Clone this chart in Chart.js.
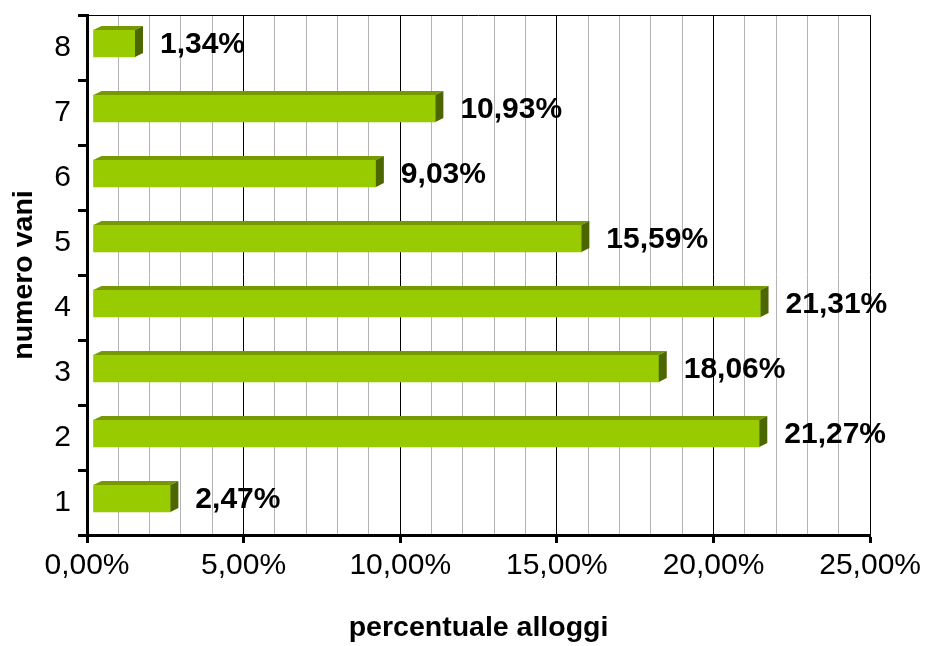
<!DOCTYPE html>
<html>
<head>
<meta charset="utf-8">
<script src="https://cdn.jsdelivr.net/npm/chart.js@4.4.1/dist/chart.umd.min.js"></script>
<style>
  html, body { margin: 0; padding: 0; background: #fff; }
  #wrap { width: 926px; height: 646px; position: relative; }
</style>
</head>
<body>
<div id="wrap"><canvas id="c"></canvas></div>
<script>
const categories = ['1', '2', '3', '4', '5', '6', '7', '8'];
const values = [2.47, 21.27, 18.06, 21.31, 15.59, 9.03, 10.93, 1.34];
const valueLabels = ['2,47%', '21,27%', '18,06%', '21,31%', '15,59%', '9,03%', '10,93%', '1,34%'];
const xTickLabels = ['0,00%', '5,00%', '10,00%', '15,00%', '20,00%', '25,00%'];
const xMin = 0, xMax = 25, xStep = 1, xMajor = 5;
const yTitle = 'numero vani';
const xTitle = 'percentuale alloggi';

const FONT = "'Liberation Sans', Arial, sans-serif";
const FACE = '#99cc00', TOP = '#779900', SIDE = '#4c6600';
const DX = 8, DY = 4, SHIFT_X = 6, SHIFT_Y = -4, LABEL_GAP = 17;

const bar3d = {
  id: 'bar3d',
  beforeDraw(chart) {
    const {ctx} = chart;
    ctx.save();
    ctx.fillStyle = '#fff';
    ctx.fillRect(0, 0, chart.width, chart.height);
    ctx.restore();
  },
  beforeDatasetsDraw(chart) {
    const {ctx, chartArea} = chart;
    ctx.save();
    ctx.strokeStyle = '#000';
    ctx.lineWidth = 1;
    ctx.beginPath();
    ctx.moveTo(chartArea.left, chartArea.top + 0.5);
    ctx.lineTo(chartArea.right, chartArea.top + 0.5);
    ctx.stroke();
    ctx.restore();
    ctx.save();
    ctx.translate(SHIFT_X, SHIFT_Y);
  },
  afterDatasetsDraw(chart) {
    const {ctx} = chart;
    const meta = chart.getDatasetMeta(0);
    meta.data.forEach((el, i) => {
      const p = el.getProps(['x', 'y', 'base', 'height'], true);
      const t = p.y - p.height / 2, b = p.y + p.height / 2;
      const l = Math.min(p.base, p.x), r = Math.max(p.base, p.x);
      ctx.fillStyle = TOP;
      ctx.beginPath();
      ctx.moveTo(l, t);
      ctx.lineTo(l + DX, t - DY);
      ctx.lineTo(r + DX, t - DY);
      ctx.lineTo(r, t);
      ctx.closePath();
      ctx.fill();
      ctx.fillStyle = SIDE;
      ctx.beginPath();
      ctx.moveTo(r, t);
      ctx.lineTo(r + DX, t - DY);
      ctx.lineTo(r + DX, b - DY);
      ctx.lineTo(r, b);
      ctx.closePath();
      ctx.fill();
      ctx.fillStyle = '#000';
      ctx.font = 'bold 30px ' + FONT;
      ctx.textAlign = 'left';
      ctx.textBaseline = 'middle';
      ctx.fillText(valueLabels[i], r + DX + LABEL_GAP, p.y + 1);
    });
    ctx.restore();
  }
};

new Chart(document.getElementById('c'), {
  type: 'bar',
  data: {
    labels: categories,
    datasets: [{
      data: values,
      backgroundColor: FACE,
      borderWidth: 0,
      barThickness: 27
    }]
  },
  options: {
    indexAxis: 'y',
    responsive: true,
    maintainAspectRatio: false,
    animation: false,
    devicePixelRatio: 1,
    layout: { padding: { top: 15, right: 52, left: 0, bottom: 0 } },
    plugins: { legend: { display: false }, tooltip: { enabled: false } },
    scales: {
      x: {
        type: 'linear',
        min: xMin, max: xMax,
        afterFit(scale) { scale.height = 111; },
        ticks: {
          stepSize: xStep,
          autoSkip: false,
          maxRotation: 0, minRotation: 0,
          padding: 5,
          color: '#000',
          font: { family: FONT, size: 30 },
          callback: (v) => (v % xMajor === 0 ? xTickLabels[v / xMajor] : '')
        },
        grid: {
          color: (c) => (c.tick && c.tick.value % xMajor === 0 ? '#000' : '#b4b4b4'),
          lineWidth: 1,
          drawTicks: true,
          tickLength: 8,
          tickWidth: 3,
          tickColor: (c) => (c.tick && c.tick.value % xMajor === 0 ? '#000' : 'rgba(0,0,0,0)')
        },
        border: { display: true, color: '#000', width: 3 },
        title: {
          display: true, text: xTitle, color: '#000',
          font: { family: FONT, size: 28.5, weight: 'bold' },
          padding: { top: 0, bottom: 1 }
        }
      },
      y: {
        type: 'category',
        reverse: true,
        offset: true,
        afterFit(scale) { scale.width = 87; scale.paddingTop = 0; scale.paddingBottom = 0; },
        ticks: {
          padding: 7,
          color: '#000',
          font: { family: FONT, size: 30 }
        },
        grid: {
          offset: true,
          drawOnChartArea: false,
          drawTicks: true,
          tickLength: 9,
          tickWidth: 3,
          tickColor: '#000'
        },
        border: { display: true, color: '#000', width: 3 },
        title: {
          display: true, text: yTitle, color: '#000',
          font: { family: FONT, size: 28.5, weight: 'bold' },
          padding: { top: 7, bottom: 0 }
        }
      }
    }
  },
  plugins: [bar3d]
});
</script>
</body>
</html>
